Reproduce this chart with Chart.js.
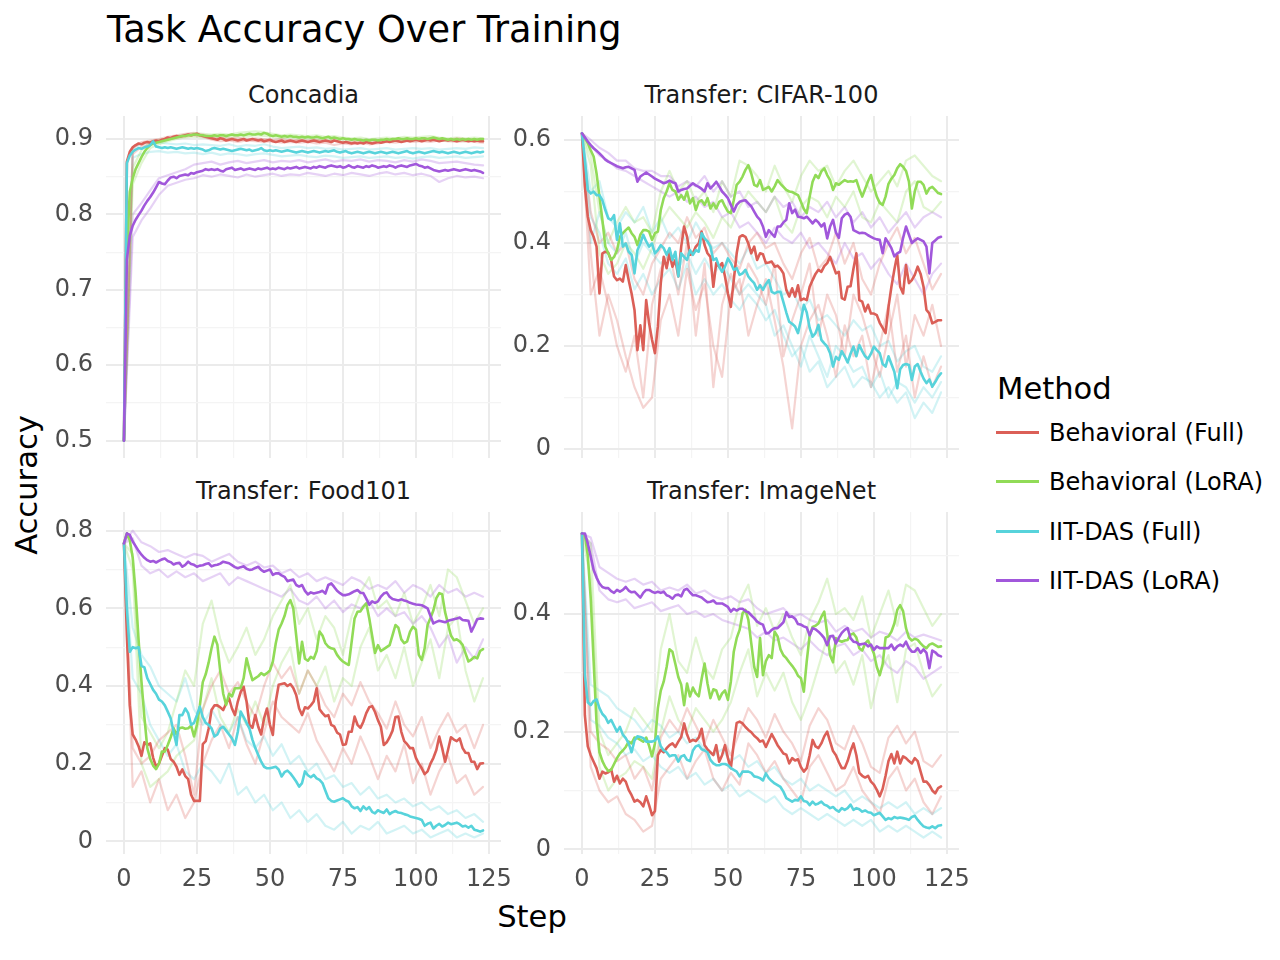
<!DOCTYPE html>
<html>
<head>
<meta charset="utf-8">
<title>Task Accuracy Over Training</title>
<script src="https://cdn.jsdelivr.net/npm/chart.js@4.4.1/dist/chart.umd.min.js"></script>
<style>
  body { margin: 0; background: #fff; font-family: 'DejaVu Sans', sans-serif; }
  #page { position: relative; width: 1280px; height: 960px; overflow: hidden; background: #fff; }
  .txt { position: absolute; white-space: nowrap; }
  canvas { position: absolute; }
  .strip { font-size: 24px; line-height: 24px; color: #1a1a1a; text-align: center; }
  .key { position: absolute; left: 996px; width: 43px; height: 3px; }
  .item { font-size: 24px; line-height: 24px; color: #000; left: 1049px; }
</style>
</head>
<body>
<div id="page">
  <div class="txt" style="left:107px;top:12px;font-size:36.7px;line-height:36.7px;color:#000;">Task Accuracy Over Training</div>
  <div class="txt strip" style="left:106px;top:83px;width:395px;">Concadia</div>
  <div class="txt strip" style="left:564px;top:83px;width:395px;">Transfer: CIFAR-100</div>
  <div class="txt strip" style="left:106px;top:479px;width:395px;">Transfer: Food101</div>
  <div class="txt strip" style="left:564px;top:479px;width:395px;">Transfer: ImageNet</div>
  <div class="txt" style="left:-73px;top:470px;width:200px;height:30px;text-align:center;font-size:30.6px;line-height:30px;transform:rotate(-90deg);color:#000;">Accuracy</div>
  <div class="txt" style="left:432px;top:902px;width:200px;text-align:center;font-size:30.6px;line-height:30.6px;color:#000;">Step</div>
  <div class="txt" style="left:997px;top:374px;font-size:30.6px;line-height:30.6px;color:#000;">Method</div>
  <div id="legend"></div>
  <canvas id="c0"></canvas>
  <canvas id="c1"></canvas>
  <canvas id="c2"></canvas>
  <canvas id="c3"></canvas>
</div>
<script>
const METHODS = ['Behavioral (Full)', 'Behavioral (LoRA)', 'IIT-DAS (Full)', 'IIT-DAS (LoRA)'];
const COLORS = ['#db5f57', '#91db57', '#57d3db', '#a157db'];

// training steps for the mean curves (every step) and for the single runs (every 3rd step)
const STEPS = Array.from({ length: 124 }, (_, i) => i);
const SEED_STEPS = Array.from({ length: 42 }, (_, i) => i * 3);

const X_MAJOR = [0, 25, 50, 75, 100, 125];
const X_MINOR = [12.5, 37.5, 62.5, 87.5, 112.5];

const CONCADIA_Y_MAJOR = [0.5, 0.6, 0.7, 0.8, 0.9];
const CONCADIA_Y_MINOR = [0.55, 0.65, 0.75, 0.85];
const CIFAR_Y_MAJOR = [0, 0.2, 0.4, 0.6];
const CIFAR_Y_MINOR = [0.1, 0.3, 0.5];
const FOOD_Y_MAJOR = [0, 0.2, 0.4, 0.6, 0.8];
const FOOD_Y_MINOR = [0.1, 0.3, 0.5, 0.7];
const IMAGENET_Y_MAJOR = [0, 0.2, 0.4];
const IMAGENET_Y_MINOR = [0.1, 0.3, 0.5];

// ---------- Concadia ----------
const CONCADIA_BEH_FULL = [
  0.500, 0.870, 0.883, 0.889, 0.892, 0.894, 0.893, 0.895, 0.896, 0.895,
  0.897, 0.898, 0.897, 0.899, 0.900, 0.902, 0.901, 0.903, 0.904, 0.903,
  0.904, 0.905, 0.906, 0.905, 0.906, 0.907, 0.905, 0.904, 0.903, 0.902,
  0.901, 0.900, 0.899, 0.901, 0.900, 0.898, 0.899, 0.900, 0.899, 0.898,
  0.899, 0.900, 0.898, 0.899, 0.900, 0.899, 0.898, 0.899, 0.897, 0.898,
  0.899, 0.897, 0.896, 0.897, 0.898, 0.896, 0.897, 0.898, 0.897, 0.896,
  0.897, 0.898, 0.897, 0.896, 0.897, 0.898, 0.897, 0.896, 0.897, 0.898,
  0.897, 0.896, 0.898, 0.897, 0.896, 0.895, 0.896, 0.895, 0.894, 0.895,
  0.894, 0.895, 0.894, 0.896, 0.895, 0.894, 0.895, 0.896, 0.895, 0.896,
  0.897, 0.896, 0.897, 0.898, 0.897, 0.896, 0.897, 0.898, 0.897, 0.898,
  0.899, 0.898, 0.897, 0.898, 0.899, 0.898, 0.899, 0.898, 0.897, 0.898,
  0.899, 0.898, 0.899, 0.898, 0.897, 0.898, 0.899, 0.898, 0.897, 0.898,
  0.897, 0.898, 0.897, 0.897
];
const CONCADIA_BEH_LORA = [
  0.500, 0.750, 0.830, 0.848, 0.860, 0.868, 0.876, 0.883, 0.888, 0.892,
  0.894, 0.895, 0.896, 0.897, 0.898, 0.899, 0.900, 0.901, 0.902, 0.903,
  0.904, 0.904, 0.905, 0.905, 0.906, 0.906, 0.905, 0.905, 0.904, 0.904,
  0.904, 0.905, 0.904, 0.905, 0.905, 0.904, 0.905, 0.906, 0.905, 0.905,
  0.906, 0.905, 0.906, 0.907, 0.906, 0.906, 0.907, 0.906, 0.908, 0.907,
  0.905, 0.904, 0.905, 0.904, 0.903, 0.904, 0.903, 0.904, 0.903, 0.903,
  0.902, 0.903, 0.902, 0.903, 0.902, 0.902, 0.903, 0.902, 0.901, 0.902,
  0.903, 0.901, 0.902, 0.901, 0.900, 0.901, 0.900, 0.900, 0.899, 0.900,
  0.899, 0.899, 0.898, 0.899, 0.898, 0.899, 0.899, 0.898, 0.899, 0.899,
  0.900, 0.899, 0.900, 0.900, 0.901, 0.900, 0.900, 0.901, 0.900, 0.900,
  0.901, 0.900, 0.901, 0.901, 0.900, 0.901, 0.902, 0.901, 0.900, 0.901,
  0.900, 0.899, 0.900, 0.899, 0.900, 0.899, 0.900, 0.899, 0.900, 0.899,
  0.900, 0.899, 0.900, 0.900
];
const CONCADIA_DAS_FULL = [
  0.500, 0.868, 0.878, 0.883, 0.886, 0.888, 0.887, 0.889, 0.890, 0.892,
  0.897, 0.890, 0.889, 0.888, 0.889, 0.888, 0.889, 0.888, 0.887, 0.888,
  0.889, 0.888, 0.887, 0.888, 0.887, 0.888, 0.887, 0.886, 0.884, 0.885,
  0.887, 0.888, 0.887, 0.886, 0.887, 0.886, 0.885, 0.884, 0.885, 0.886,
  0.887, 0.886, 0.885, 0.886, 0.884, 0.885, 0.886, 0.888, 0.885, 0.884,
  0.885, 0.884, 0.885, 0.884, 0.883, 0.884, 0.885, 0.884, 0.883, 0.882,
  0.883, 0.884, 0.883, 0.882, 0.883, 0.884, 0.883, 0.882, 0.883, 0.884,
  0.883, 0.884, 0.885, 0.883, 0.882, 0.883, 0.884, 0.882, 0.881, 0.882,
  0.883, 0.882, 0.881, 0.882, 0.883, 0.882, 0.881, 0.882, 0.883, 0.882,
  0.881, 0.882, 0.883, 0.882, 0.881, 0.882, 0.883, 0.884, 0.882, 0.881,
  0.882, 0.883, 0.882, 0.881, 0.882, 0.883, 0.884, 0.883, 0.882, 0.883,
  0.882, 0.881, 0.882, 0.883, 0.882, 0.881, 0.882, 0.883, 0.882, 0.881,
  0.882, 0.883, 0.882, 0.883
];
const CONCADIA_DAS_LORA = [
  0.500, 0.740, 0.772, 0.785, 0.793, 0.799, 0.805, 0.812, 0.818, 0.823,
  0.829, 0.836, 0.843, 0.841, 0.840, 0.845, 0.849, 0.850, 0.848, 0.851,
  0.852, 0.853, 0.852, 0.855, 0.854, 0.856, 0.857, 0.858, 0.860, 0.859,
  0.860, 0.859, 0.860, 0.858, 0.857, 0.860, 0.861, 0.862, 0.859, 0.860,
  0.861, 0.859, 0.860, 0.861, 0.860, 0.859, 0.861, 0.860, 0.861, 0.862,
  0.860, 0.861, 0.860, 0.862, 0.861, 0.860, 0.862, 0.861, 0.862, 0.863,
  0.861, 0.862, 0.863, 0.862, 0.861, 0.863, 0.862, 0.864, 0.863, 0.862,
  0.864, 0.865, 0.864, 0.863, 0.864, 0.862, 0.863, 0.865, 0.863, 0.862,
  0.864, 0.863, 0.862, 0.864, 0.863, 0.865, 0.864, 0.862, 0.863, 0.864,
  0.863, 0.865, 0.864, 0.862, 0.864, 0.865, 0.864, 0.863, 0.865, 0.866,
  0.867, 0.865, 0.864, 0.862, 0.863, 0.861, 0.859, 0.858, 0.857, 0.858,
  0.859, 0.858, 0.859, 0.860, 0.859, 0.858, 0.859, 0.860, 0.859, 0.858,
  0.859, 0.858, 0.857, 0.855
];
const CONCADIA_BEH_FULL_SEEDS = [
  [0.5, 0.887, 0.896, 0.898, 0.900, 0.903, 0.905, 0.907, 0.908, 0.906,
   0.903, 0.902, 0.901, 0.902, 0.900, 0.901, 0.900, 0.899, 0.900, 0.898,
   0.899, 0.898, 0.899, 0.897, 0.898, 0.896, 0.897, 0.896, 0.898, 0.897,
   0.899, 0.898, 0.900, 0.899, 0.900, 0.901, 0.900, 0.899, 0.901, 0.900,
   0.899, 0.900],
  [0.5, 0.880, 0.890, 0.893, 0.896, 0.899, 0.902, 0.903, 0.905, 0.903,
   0.899, 0.897, 0.898, 0.896, 0.898, 0.897, 0.896, 0.897, 0.895, 0.896,
   0.895, 0.896, 0.894, 0.895, 0.892, 0.894, 0.893, 0.895, 0.893, 0.894,
   0.896, 0.895, 0.897, 0.896, 0.897, 0.896, 0.898, 0.897, 0.896, 0.897,
   0.896, 0.895]
];
const CONCADIA_BEH_LORA_SEEDS = [
  [0.5, 0.862, 0.885, 0.896, 0.899, 0.901, 0.904, 0.906, 0.908, 0.907,
   0.906, 0.907, 0.906, 0.908, 0.909, 0.910, 0.909, 0.907, 0.905, 0.906,
   0.905, 0.904, 0.905, 0.903, 0.904, 0.902, 0.901, 0.902, 0.900, 0.901,
   0.902, 0.901, 0.903, 0.902, 0.903, 0.904, 0.902, 0.901, 0.902, 0.901,
   0.902, 0.901],
  [0.5, 0.840, 0.868, 0.888, 0.893, 0.897, 0.900, 0.902, 0.903, 0.902,
   0.902, 0.903, 0.902, 0.904, 0.903, 0.905, 0.904, 0.903, 0.901, 0.902,
   0.900, 0.901, 0.899, 0.900, 0.898, 0.897, 0.898, 0.896, 0.897, 0.898,
   0.897, 0.898, 0.899, 0.898, 0.899, 0.900, 0.898, 0.897, 0.898, 0.897,
   0.898, 0.898]
];
const CONCADIA_DAS_FULL_SEEDS = [
  [0.5, 0.889, 0.893, 0.896, 0.895, 0.894, 0.893, 0.894, 0.892, 0.893,
   0.892, 0.891, 0.893, 0.890, 0.892, 0.891, 0.893, 0.890, 0.888, 0.889,
   0.890, 0.888, 0.889, 0.887, 0.888, 0.886, 0.887, 0.888, 0.886, 0.887,
   0.888, 0.886, 0.887, 0.888, 0.887, 0.888, 0.886, 0.887, 0.888, 0.887,
   0.889, 0.888],
  [0.5, 0.875, 0.880, 0.883, 0.884, 0.882, 0.883, 0.881, 0.882, 0.880,
   0.882, 0.879, 0.881, 0.880, 0.878, 0.880, 0.881, 0.879, 0.877, 0.878,
   0.879, 0.877, 0.876, 0.878, 0.877, 0.875, 0.876, 0.877, 0.875, 0.876,
   0.877, 0.875, 0.876, 0.874, 0.876, 0.877, 0.875, 0.876, 0.877, 0.875,
   0.876, 0.877]
];
const CONCADIA_DAS_LORA_SEEDS = [
  [0.5, 0.800, 0.815, 0.832, 0.848, 0.852, 0.856, 0.860, 0.866, 0.868,
   0.870, 0.866, 0.869, 0.871, 0.868, 0.870, 0.872, 0.869, 0.871, 0.870,
   0.872, 0.869, 0.871, 0.873, 0.870, 0.872, 0.871, 0.873, 0.870, 0.872,
   0.871, 0.869, 0.872, 0.870, 0.873, 0.871, 0.868, 0.869, 0.870, 0.868,
   0.866, 0.865],
  [0.5, 0.770, 0.792, 0.808, 0.826, 0.838, 0.842, 0.846, 0.848, 0.852,
   0.850, 0.853, 0.851, 0.849, 0.853, 0.850, 0.852, 0.854, 0.851, 0.853,
   0.852, 0.855, 0.853, 0.851, 0.854, 0.852, 0.855, 0.853, 0.851, 0.854,
   0.856, 0.853, 0.855, 0.852, 0.854, 0.851, 0.843, 0.848, 0.851, 0.849,
   0.850, 0.848]
];

// ---------- Transfer: CIFAR-100 ----------
const CIFAR_BEH_FULL = [
  0.613, 0.510, 0.451, 0.425, 0.412, 0.393, 0.302, 0.380, 0.383, 0.381,
  0.367, 0.335, 0.328, 0.331, 0.325, 0.357, 0.328, 0.302, 0.270, 0.192,
  0.240, 0.192, 0.289, 0.244, 0.212, 0.186, 0.238, 0.322, 0.373, 0.351,
  0.380, 0.354, 0.367, 0.335, 0.393, 0.432, 0.412, 0.377, 0.380, 0.393,
  0.399, 0.422, 0.396, 0.380, 0.373, 0.315, 0.361, 0.354, 0.361, 0.335,
  0.302, 0.276, 0.328, 0.380, 0.412, 0.415, 0.412, 0.399, 0.380, 0.393,
  0.367, 0.380, 0.378, 0.361, 0.362, 0.364, 0.354, 0.356, 0.350, 0.341,
  0.309, 0.296, 0.312, 0.296, 0.318, 0.289, 0.292, 0.289, 0.315, 0.328,
  0.340, 0.348, 0.344, 0.355, 0.361, 0.373, 0.357, 0.341, 0.344, 0.293,
  0.290, 0.315, 0.316, 0.350, 0.380, 0.289, 0.286, 0.267, 0.280, 0.263,
  0.263, 0.260, 0.245, 0.235, 0.225, 0.276, 0.315, 0.348, 0.377, 0.315,
  0.302, 0.357, 0.322, 0.328, 0.338, 0.354, 0.340, 0.315, 0.270, 0.263,
  0.244, 0.247, 0.250, 0.250
];
const CIFAR_BEH_LORA = [
  0.613, 0.604, 0.594, 0.580, 0.568, 0.535, 0.490, 0.445, 0.393, 0.380,
  0.367, 0.373, 0.386, 0.412, 0.419, 0.425, 0.430, 0.419, 0.412, 0.396,
  0.416, 0.425, 0.425, 0.422, 0.406, 0.419, 0.422, 0.464, 0.487, 0.500,
  0.516, 0.503, 0.500, 0.484, 0.493, 0.484, 0.500, 0.477, 0.487, 0.464,
  0.480, 0.483, 0.474, 0.487, 0.467, 0.477, 0.467, 0.480, 0.483, 0.471,
  0.461, 0.458, 0.483, 0.513, 0.519, 0.529, 0.542, 0.551, 0.535, 0.513,
  0.510, 0.522, 0.503, 0.506, 0.509, 0.500, 0.510, 0.522, 0.515, 0.509,
  0.503, 0.500, 0.499, 0.496, 0.493, 0.480, 0.466, 0.458, 0.490, 0.519,
  0.532, 0.526, 0.539, 0.545, 0.532, 0.522, 0.503, 0.516, 0.513, 0.518,
  0.522, 0.519, 0.520, 0.519, 0.522, 0.505, 0.490, 0.505, 0.520, 0.532,
  0.509, 0.490, 0.478, 0.474, 0.490, 0.515, 0.525, 0.532, 0.545, 0.553,
  0.548, 0.540, 0.519, 0.467, 0.500, 0.519, 0.519, 0.513, 0.496, 0.506,
  0.509, 0.503, 0.497, 0.495
];
const CIFAR_DAS_FULL = [
  0.613, 0.561, 0.503, 0.496, 0.500, 0.493, 0.493, 0.483, 0.464, 0.448,
  0.445, 0.454, 0.406, 0.438, 0.393, 0.399, 0.383, 0.377, 0.341, 0.386,
  0.399, 0.416, 0.403, 0.393, 0.399, 0.380, 0.386, 0.396, 0.390, 0.377,
  0.390, 0.367, 0.383, 0.335, 0.380, 0.373, 0.367, 0.386, 0.377, 0.386,
  0.383, 0.419, 0.409, 0.403, 0.393, 0.367, 0.370, 0.354, 0.344, 0.354,
  0.370, 0.361, 0.348, 0.351, 0.338, 0.341, 0.348, 0.335, 0.328, 0.322,
  0.309, 0.318, 0.309, 0.320, 0.328, 0.305, 0.302, 0.305, 0.305, 0.285,
  0.265, 0.247, 0.243, 0.238, 0.225, 0.250, 0.280, 0.265, 0.235, 0.218,
  0.225, 0.241, 0.212, 0.205, 0.199, 0.186, 0.160, 0.179, 0.173, 0.190,
  0.180, 0.168, 0.185, 0.199, 0.180, 0.202, 0.190, 0.180, 0.175, 0.185,
  0.199, 0.192, 0.186, 0.165, 0.160, 0.180, 0.165, 0.150, 0.118, 0.155,
  0.163, 0.165, 0.163, 0.134, 0.160, 0.165, 0.150, 0.137, 0.128, 0.135,
  0.121, 0.130, 0.140, 0.147
];
const CIFAR_DAS_LORA = [
  0.613, 0.605, 0.597, 0.590, 0.584, 0.579, 0.574, 0.568, 0.562, 0.558,
  0.555, 0.552, 0.549, 0.547, 0.545, 0.547, 0.548, 0.545, 0.542, 0.519,
  0.529, 0.533, 0.537, 0.533, 0.529, 0.525, 0.522, 0.519, 0.516, 0.518,
  0.521, 0.518, 0.516, 0.500, 0.503, 0.505, 0.506, 0.511, 0.516, 0.512,
  0.509, 0.505, 0.500, 0.516, 0.506, 0.512, 0.519, 0.510, 0.500, 0.494,
  0.487, 0.474, 0.461, 0.474, 0.480, 0.482, 0.483, 0.477, 0.471, 0.461,
  0.451, 0.445, 0.432, 0.412, 0.425, 0.418, 0.412, 0.432, 0.432, 0.440,
  0.445, 0.477, 0.458, 0.465, 0.451, 0.450, 0.448, 0.451, 0.445, 0.438,
  0.445, 0.440, 0.432, 0.438, 0.409, 0.432, 0.445, 0.420, 0.410, 0.448,
  0.455, 0.458, 0.451, 0.425, 0.422, 0.419, 0.420, 0.419, 0.415, 0.412,
  0.409, 0.407, 0.406, 0.380, 0.409, 0.400, 0.390, 0.374, 0.380, 0.383,
  0.410, 0.432, 0.416, 0.400, 0.405, 0.409, 0.406, 0.403, 0.393, 0.341,
  0.400, 0.405, 0.410, 0.412
];
const CIFAR_BEH_FULL_SEEDS = [
  [0.613, 0.46, 0.40, 0.42, 0.38, 0.40, 0.33, 0.30, 0.36, 0.39,
   0.42, 0.40, 0.45, 0.41, 0.43, 0.38, 0.40, 0.37, 0.35, 0.40,
   0.42, 0.39, 0.40, 0.36, 0.33, 0.38, 0.41, 0.35, 0.37, 0.42,
   0.36, 0.40, 0.33, 0.30, 0.36, 0.40, 0.43, 0.38, 0.41, 0.36,
   0.31, 0.34],
  [0.613, 0.38, 0.22, 0.30, 0.25, 0.18, 0.12, 0.08, 0.10, 0.25,
   0.30, 0.22, 0.35, 0.27, 0.32, 0.20, 0.14, 0.30, 0.33, 0.22,
   0.28, 0.33, 0.25, 0.16, 0.04, 0.20, 0.25, 0.28, 0.22, 0.14,
   0.24, 0.18, 0.22, 0.12, 0.20, 0.28, 0.15, 0.22, 0.10, 0.18,
   0.12, 0.16],
  [0.613, 0.30, 0.35, 0.28, 0.20, 0.15, 0.22, 0.10, 0.28, 0.35,
   0.38, 0.30, 0.40, 0.22, 0.36, 0.12, 0.28, 0.34, 0.30, 0.36,
   0.33, 0.28, 0.36, 0.18, 0.25, 0.30, 0.36, 0.22, 0.30, 0.26,
   0.18, 0.30, 0.26, 0.20, 0.14, 0.22, 0.30, 0.16, 0.26, 0.22,
   0.28, 0.20]
];
const CIFAR_BEH_LORA_SEEDS = [
  [0.613, 0.57, 0.46, 0.40, 0.44, 0.47, 0.44, 0.45, 0.42, 0.50,
   0.54, 0.50, 0.52, 0.48, 0.50, 0.46, 0.52, 0.49, 0.56, 0.55,
   0.53, 0.50, 0.55, 0.51, 0.48, 0.53, 0.56, 0.54, 0.55, 0.51,
   0.54, 0.56, 0.53, 0.50, 0.52, 0.54, 0.51, 0.56, 0.57, 0.55,
   0.53, 0.52],
  [0.613, 0.55, 0.38, 0.34, 0.36, 0.40, 0.38, 0.35, 0.39, 0.44,
   0.47, 0.45, 0.43, 0.46, 0.44, 0.41, 0.45, 0.43, 0.47, 0.50,
   0.48, 0.46, 0.49, 0.44, 0.42, 0.47, 0.49, 0.48, 0.45, 0.49,
   0.47, 0.50, 0.45, 0.44, 0.48, 0.46, 0.44, 0.50, 0.52, 0.47,
   0.46, 0.48]
];
const CIFAR_DAS_FULL_SEEDS = [
  [0.613, 0.50, 0.52, 0.45, 0.43, 0.46, 0.44, 0.47, 0.42, 0.45,
   0.41, 0.43, 0.40, 0.44, 0.41, 0.39, 0.40, 0.38, 0.36, 0.39,
   0.35, 0.36, 0.33, 0.30, 0.31, 0.27, 0.29, 0.25, 0.26, 0.24,
   0.22, 0.25, 0.23, 0.24, 0.20, 0.21, 0.17, 0.19, 0.20, 0.16,
   0.15, 0.18],
  [0.613, 0.45, 0.42, 0.36, 0.34, 0.37, 0.31, 0.34, 0.30, 0.33,
   0.35, 0.31, 0.36, 0.30, 0.33, 0.30, 0.32, 0.29, 0.27, 0.30,
   0.28, 0.25, 0.27, 0.22, 0.18, 0.20, 0.15, 0.17, 0.12, 0.14,
   0.16, 0.12, 0.14, 0.13, 0.10, 0.12, 0.09, 0.11, 0.06, 0.09,
   0.07, 0.11],
  [0.613, 0.40, 0.46, 0.40, 0.38, 0.42, 0.36, 0.40, 0.38, 0.36,
   0.38, 0.35, 0.38, 0.34, 0.37, 0.34, 0.36, 0.33, 0.30, 0.32,
   0.30, 0.28, 0.22, 0.24, 0.20, 0.16, 0.22, 0.18, 0.14, 0.20,
   0.18, 0.15, 0.16, 0.12, 0.15, 0.10, 0.13, 0.12, 0.09, 0.12,
   0.10, 0.13]
];
const CIFAR_DAS_LORA_SEEDS = [
  [0.613, 0.60, 0.585, 0.575, 0.56, 0.56, 0.545, 0.54, 0.54, 0.53,
   0.53, 0.51, 0.52, 0.51, 0.53, 0.50, 0.52, 0.49, 0.50, 0.47,
   0.48, 0.46, 0.49, 0.47, 0.48, 0.45, 0.47, 0.46, 0.48, 0.45,
   0.47, 0.44, 0.46, 0.43, 0.45, 0.42, 0.44, 0.46, 0.43, 0.45,
   0.46, 0.45],
  [0.613, 0.59, 0.57, 0.56, 0.545, 0.54, 0.53, 0.52, 0.51, 0.50,
   0.49, 0.50, 0.48, 0.49, 0.47, 0.48, 0.45, 0.46, 0.43, 0.44,
   0.42, 0.40, 0.43, 0.41, 0.40, 0.42, 0.39, 0.40, 0.38, 0.36,
   0.40, 0.37, 0.38, 0.35, 0.37, 0.34, 0.32, 0.36, 0.33, 0.30,
   0.34, 0.36]
];

// ---------- Transfer: Food101 ----------
const FOOD_BEH_FULL = [
  0.767, 0.530, 0.350, 0.275, 0.262, 0.245, 0.220, 0.255, 0.248, 0.252,
  0.215, 0.192, 0.200, 0.220, 0.240, 0.236, 0.212, 0.205, 0.192, 0.171,
  0.185, 0.168, 0.160, 0.120, 0.104, 0.104, 0.104, 0.250, 0.258, 0.290,
  0.338, 0.350, 0.350, 0.345, 0.338, 0.355, 0.368, 0.342, 0.325, 0.360,
  0.385, 0.398, 0.360, 0.300, 0.292, 0.325, 0.295, 0.275, 0.317, 0.342,
  0.300, 0.274, 0.360, 0.403, 0.405, 0.407, 0.400, 0.405, 0.395, 0.377,
  0.342, 0.325, 0.345, 0.342, 0.350, 0.360, 0.394, 0.340, 0.330, 0.322,
  0.325, 0.300, 0.296, 0.280, 0.275, 0.248, 0.250, 0.282, 0.282, 0.321,
  0.300, 0.292, 0.308, 0.330, 0.345, 0.348, 0.333, 0.312, 0.295, 0.248,
  0.255, 0.268, 0.285, 0.320, 0.321, 0.282, 0.258, 0.250, 0.240, 0.240,
  0.215, 0.200, 0.188, 0.173, 0.180, 0.200, 0.215, 0.235, 0.270, 0.240,
  0.205, 0.235, 0.268, 0.262, 0.258, 0.265, 0.240, 0.228, 0.227, 0.205,
  0.205, 0.186, 0.200, 0.201
];
const FOOD_BEH_LORA = [
  0.767, 0.793, 0.775, 0.730, 0.640, 0.520, 0.411, 0.320, 0.240, 0.212,
  0.195, 0.186, 0.200, 0.231, 0.231, 0.248, 0.268, 0.291, 0.275, 0.291,
  0.293, 0.290, 0.291, 0.298, 0.270, 0.300, 0.350, 0.410, 0.430, 0.460,
  0.497, 0.527, 0.506, 0.437, 0.380, 0.351, 0.380, 0.373, 0.394, 0.394,
  0.395, 0.420, 0.471, 0.441, 0.415, 0.420, 0.425, 0.433, 0.428, 0.433,
  0.440, 0.463, 0.510, 0.545, 0.561, 0.580, 0.608, 0.621, 0.600, 0.530,
  0.458, 0.514, 0.470, 0.465, 0.475, 0.470, 0.490, 0.540, 0.530, 0.510,
  0.501, 0.497, 0.495, 0.480, 0.470, 0.463, 0.458, 0.454, 0.514, 0.574,
  0.591, 0.592, 0.604, 0.613, 0.575, 0.530, 0.485, 0.505, 0.490, 0.495,
  0.500, 0.505, 0.531, 0.557, 0.550, 0.520, 0.510, 0.515, 0.540, 0.553,
  0.545, 0.480, 0.467, 0.497, 0.557, 0.575, 0.595, 0.626, 0.639, 0.636,
  0.590, 0.560, 0.530, 0.518, 0.520, 0.515, 0.506, 0.484, 0.463, 0.468,
  0.475, 0.471, 0.490, 0.495
];
const FOOD_DAS_FULL = [
  0.767, 0.600, 0.488, 0.500, 0.497, 0.500, 0.452, 0.448, 0.420, 0.405,
  0.390, 0.380, 0.365, 0.360, 0.350, 0.334, 0.317, 0.282, 0.248, 0.325,
  0.325, 0.342, 0.330, 0.300, 0.305, 0.325, 0.347, 0.320, 0.305, 0.300,
  0.291, 0.270, 0.275, 0.291, 0.295, 0.285, 0.275, 0.265, 0.248, 0.282,
  0.334, 0.320, 0.305, 0.290, 0.262, 0.240, 0.222, 0.205, 0.192, 0.188,
  0.188, 0.190, 0.192, 0.185, 0.167, 0.178, 0.182, 0.175, 0.165, 0.154,
  0.141, 0.150, 0.180, 0.170, 0.165, 0.171, 0.162, 0.158, 0.150, 0.130,
  0.111, 0.104, 0.102, 0.105, 0.108, 0.111, 0.105, 0.102, 0.090, 0.085,
  0.088, 0.078, 0.090, 0.082, 0.088, 0.076, 0.072, 0.080, 0.076, 0.073,
  0.082, 0.070, 0.075, 0.078, 0.074, 0.073, 0.070, 0.068, 0.064, 0.062,
  0.060, 0.058, 0.055, 0.040, 0.045, 0.048, 0.033, 0.040, 0.045, 0.038,
  0.042, 0.048, 0.044, 0.046, 0.048, 0.044, 0.038, 0.040, 0.035, 0.040,
  0.030, 0.028, 0.025, 0.028
];
const FOOD_DAS_LORA = [
  0.767, 0.793, 0.789, 0.772, 0.760, 0.748, 0.738, 0.730, 0.724, 0.720,
  0.722, 0.718, 0.722, 0.726, 0.728, 0.722, 0.719, 0.713, 0.716, 0.717,
  0.707, 0.712, 0.720, 0.714, 0.712, 0.707, 0.710, 0.711, 0.714, 0.716,
  0.708, 0.711, 0.712, 0.715, 0.720, 0.718, 0.716, 0.711, 0.706, 0.703,
  0.706, 0.708, 0.702, 0.699, 0.700, 0.704, 0.707, 0.699, 0.694, 0.697,
  0.700, 0.686, 0.690, 0.690, 0.685, 0.681, 0.670, 0.672, 0.674, 0.660,
  0.656, 0.660, 0.645, 0.636, 0.641, 0.638, 0.640, 0.642, 0.645, 0.638,
  0.660, 0.664, 0.655, 0.645, 0.639, 0.634, 0.634, 0.636, 0.640, 0.644,
  0.647, 0.640, 0.639, 0.625, 0.609, 0.618, 0.614, 0.618, 0.630, 0.638,
  0.641, 0.630, 0.624, 0.622, 0.620, 0.623, 0.620, 0.618, 0.614, 0.612,
  0.610, 0.609, 0.608, 0.604, 0.600, 0.580, 0.561, 0.565, 0.568, 0.566,
  0.564, 0.568, 0.570, 0.572, 0.574, 0.576, 0.570, 0.569, 0.568, 0.540,
  0.555, 0.572, 0.574, 0.573
];
const FOOD_BEH_FULL_SEEDS = [
  [0.767, 0.24, 0.20, 0.22, 0.26, 0.28, 0.30, 0.22, 0.12, 0.34,
   0.40, 0.44, 0.38, 0.41, 0.36, 0.32, 0.40, 0.46, 0.42, 0.45,
   0.38, 0.44, 0.40, 0.35, 0.32, 0.38, 0.35, 0.41, 0.36, 0.33,
   0.29, 0.36, 0.30, 0.27, 0.32, 0.24, 0.29, 0.33, 0.28, 0.30,
   0.24, 0.30],
  [0.767, 0.14, 0.18, 0.10, 0.16, 0.08, 0.12, 0.06, 0.10, 0.20,
   0.26, 0.30, 0.24, 0.32, 0.25, 0.20, 0.28, 0.36, 0.32, 0.30,
   0.28, 0.33, 0.26, 0.22, 0.18, 0.24, 0.20, 0.27, 0.22, 0.16,
   0.22, 0.18, 0.25, 0.15, 0.20, 0.12, 0.18, 0.22, 0.15, 0.17,
   0.12, 0.14]
];
const FOOD_BEH_LORA_SEEDS = [
  [0.767, 0.74, 0.32, 0.28, 0.24, 0.28, 0.36, 0.44, 0.40, 0.56,
   0.62, 0.52, 0.46, 0.50, 0.55, 0.48, 0.52, 0.58, 0.62, 0.66,
   0.56, 0.60, 0.52, 0.58, 0.55, 0.48, 0.58, 0.64, 0.68, 0.60,
   0.62, 0.58, 0.64, 0.56, 0.60, 0.66, 0.58, 0.70, 0.68, 0.62,
   0.56, 0.60],
  [0.767, 0.70, 0.20, 0.14, 0.16, 0.18, 0.22, 0.24, 0.26, 0.34,
   0.42, 0.32, 0.28, 0.34, 0.30, 0.36, 0.30, 0.40, 0.46, 0.50,
   0.38, 0.44, 0.40, 0.45, 0.36, 0.42, 0.40, 0.50, 0.55, 0.44,
   0.48, 0.42, 0.50, 0.40, 0.46, 0.52, 0.42, 0.55, 0.58, 0.44,
   0.36, 0.42]
];
const FOOD_DAS_FULL_SEEDS = [
  [0.767, 0.55, 0.48, 0.45, 0.40, 0.38, 0.36, 0.42, 0.34, 0.30,
   0.34, 0.30, 0.28, 0.32, 0.26, 0.24, 0.27, 0.22, 0.25, 0.20,
   0.22, 0.18, 0.20, 0.16, 0.17, 0.14, 0.15, 0.12, 0.14, 0.11,
   0.12, 0.10, 0.11, 0.09, 0.10, 0.08, 0.09, 0.07, 0.08, 0.06,
   0.07, 0.05],
  [0.767, 0.42, 0.38, 0.30, 0.26, 0.22, 0.25, 0.18, 0.16, 0.20,
   0.18, 0.15, 0.20, 0.12, 0.14, 0.10, 0.12, 0.08, 0.10, 0.06,
   0.08, 0.05, 0.07, 0.04, 0.03, 0.05, 0.02, 0.04, 0.03, 0.05,
   0.02, 0.03, 0.04, 0.02, 0.03, 0.01, 0.02, 0.03, 0.01, 0.02,
   0.01, 0.02]
];
const FOOD_DAS_LORA_SEEDS = [
  [0.767, 0.80, 0.77, 0.76, 0.745, 0.75, 0.74, 0.73, 0.74, 0.735,
   0.72, 0.73, 0.74, 0.72, 0.71, 0.72, 0.705, 0.71, 0.69, 0.70,
   0.68, 0.69, 0.67, 0.68, 0.67, 0.66, 0.68, 0.67, 0.65, 0.66,
   0.65, 0.67, 0.64, 0.66, 0.65, 0.63, 0.66, 0.64, 0.65, 0.63,
   0.64, 0.63],
  [0.767, 0.78, 0.71, 0.69, 0.70, 0.68, 0.695, 0.68, 0.69, 0.67,
   0.68, 0.69, 0.66, 0.68, 0.67, 0.66, 0.65, 0.64, 0.63, 0.65,
   0.62, 0.61, 0.63, 0.60, 0.62, 0.59, 0.61, 0.60, 0.62, 0.58,
   0.60, 0.58, 0.59, 0.56, 0.58, 0.55, 0.50, 0.53, 0.46, 0.50,
   0.47, 0.52]
];

// ---------- Transfer: ImageNet ----------
const IMAGENET_BEH_FULL = [
  0.537, 0.228, 0.175, 0.160, 0.149, 0.138, 0.120, 0.132, 0.129, 0.131,
  0.136, 0.115, 0.125, 0.112, 0.120, 0.115, 0.101, 0.092, 0.081, 0.084,
  0.080, 0.073, 0.090, 0.075, 0.058, 0.065, 0.160, 0.169, 0.165, 0.172,
  0.177, 0.180, 0.174, 0.183, 0.191, 0.214, 0.195, 0.183, 0.186, 0.184,
  0.190, 0.205, 0.177, 0.170, 0.165, 0.160, 0.177, 0.149, 0.160, 0.177,
  0.155, 0.138, 0.180, 0.215, 0.217, 0.214, 0.208, 0.203, 0.199, 0.193,
  0.189, 0.183, 0.185, 0.174, 0.185, 0.196, 0.187, 0.177, 0.170, 0.163,
  0.161, 0.146, 0.155, 0.151, 0.153, 0.140, 0.132, 0.138, 0.160, 0.186,
  0.175, 0.172, 0.180, 0.192, 0.200, 0.183, 0.167, 0.160, 0.148, 0.138,
  0.138, 0.150, 0.167, 0.180, 0.160, 0.130, 0.125, 0.122, 0.125, 0.115,
  0.110, 0.101, 0.090, 0.103, 0.125, 0.150, 0.162, 0.146, 0.166, 0.146,
  0.158, 0.155, 0.150, 0.146, 0.155, 0.150, 0.132, 0.115, 0.115, 0.109,
  0.100, 0.095, 0.104, 0.107
];
const IMAGENET_BEH_LORA = [
  0.537, 0.534, 0.500, 0.427, 0.320, 0.215, 0.165, 0.150, 0.140, 0.133,
  0.135, 0.145, 0.155, 0.163, 0.168, 0.174, 0.183, 0.180, 0.190, 0.189,
  0.186, 0.183, 0.190, 0.176, 0.158, 0.180, 0.240, 0.270, 0.285, 0.310,
  0.340, 0.336, 0.315, 0.293, 0.280, 0.245, 0.282, 0.260, 0.275, 0.265,
  0.260, 0.290, 0.316, 0.282, 0.257, 0.272, 0.270, 0.255, 0.265, 0.270,
  0.254, 0.285, 0.336, 0.359, 0.373, 0.401, 0.407, 0.390, 0.350, 0.310,
  0.293, 0.359, 0.296, 0.320, 0.330, 0.325, 0.370, 0.362, 0.340, 0.330,
  0.325, 0.318, 0.312, 0.305, 0.295, 0.291, 0.268, 0.320, 0.364, 0.378,
  0.380, 0.384, 0.395, 0.404, 0.367, 0.330, 0.318, 0.359, 0.355, 0.353,
  0.355, 0.356, 0.365, 0.367, 0.360, 0.342, 0.338, 0.350, 0.355, 0.345,
  0.333, 0.310, 0.296, 0.315, 0.360, 0.362, 0.370, 0.384, 0.407, 0.415,
  0.405, 0.376, 0.360, 0.355, 0.358, 0.356, 0.350, 0.345, 0.342, 0.348,
  0.350, 0.347, 0.344, 0.345
];
const IMAGENET_DAS_FULL = [
  0.537, 0.296, 0.250, 0.245, 0.252, 0.255, 0.240, 0.230, 0.225, 0.215,
  0.220, 0.210, 0.200, 0.208, 0.195, 0.189, 0.180, 0.165, 0.185, 0.192,
  0.191, 0.189, 0.183, 0.183, 0.183, 0.185, 0.192, 0.175, 0.168, 0.165,
  0.158, 0.160, 0.160, 0.149, 0.158, 0.160, 0.152, 0.150, 0.168, 0.175,
  0.177, 0.170, 0.168, 0.165, 0.152, 0.146, 0.143, 0.143, 0.145, 0.145,
  0.143, 0.138, 0.135, 0.132, 0.124, 0.132, 0.132, 0.132, 0.130, 0.124,
  0.123, 0.121, 0.117, 0.129, 0.121, 0.116, 0.112, 0.109, 0.106, 0.098,
  0.087, 0.084, 0.081, 0.084, 0.083, 0.090, 0.082, 0.081, 0.075, 0.081,
  0.076, 0.078, 0.081, 0.076, 0.074, 0.070, 0.072, 0.067, 0.064, 0.070,
  0.067, 0.070, 0.076, 0.067, 0.070, 0.068, 0.064, 0.066, 0.063, 0.062,
  0.058, 0.060, 0.062, 0.056, 0.050, 0.053, 0.051, 0.055, 0.053, 0.054,
  0.053, 0.052, 0.050, 0.055, 0.057, 0.050, 0.044, 0.039, 0.037, 0.036,
  0.039, 0.036, 0.040, 0.041
];
const IMAGENET_DAS_LORA = [
  0.537, 0.537, 0.520, 0.498, 0.475, 0.462, 0.452, 0.446, 0.444, 0.444,
  0.439, 0.436, 0.441, 0.438, 0.441, 0.446, 0.440, 0.437, 0.438, 0.433,
  0.428, 0.436, 0.441, 0.441, 0.438, 0.436, 0.438, 0.436, 0.438, 0.432,
  0.430, 0.426, 0.432, 0.433, 0.430, 0.441, 0.443, 0.437, 0.432, 0.432,
  0.430, 0.428, 0.424, 0.420, 0.421, 0.423, 0.418, 0.418, 0.418, 0.415,
  0.412, 0.404, 0.409, 0.406, 0.409, 0.409, 0.405, 0.403, 0.398, 0.393,
  0.387, 0.384, 0.382, 0.367, 0.368, 0.373, 0.376, 0.376, 0.381, 0.386,
  0.403, 0.395, 0.396, 0.392, 0.383, 0.382, 0.379, 0.377, 0.364, 0.376,
  0.374, 0.370, 0.365, 0.359, 0.347, 0.362, 0.363, 0.350, 0.360, 0.368,
  0.373, 0.376, 0.359, 0.353, 0.352, 0.348, 0.349, 0.350, 0.345, 0.348,
  0.339, 0.345, 0.342, 0.342, 0.342, 0.342, 0.348, 0.339, 0.345, 0.348,
  0.345, 0.353, 0.342, 0.336, 0.336, 0.342, 0.334, 0.340, 0.334, 0.308,
  0.338, 0.335, 0.330, 0.328
];
const IMAGENET_BEH_FULL_SEEDS = [
  [0.537, 0.20, 0.18, 0.17, 0.15, 0.16, 0.12, 0.14, 0.10, 0.19,
   0.22, 0.20, 0.24, 0.21, 0.18, 0.22, 0.19, 0.16, 0.20, 0.24,
   0.22, 0.19, 0.23, 0.20, 0.18, 0.15, 0.21, 0.24, 0.22, 0.18,
   0.17, 0.21, 0.18, 0.14, 0.13, 0.19, 0.21, 0.18, 0.20, 0.15,
   0.14, 0.16],
  [0.537, 0.14, 0.10, 0.08, 0.09, 0.06, 0.05, 0.03, 0.04, 0.12,
   0.14, 0.16, 0.12, 0.15, 0.17, 0.12, 0.10, 0.13, 0.11, 0.18,
   0.16, 0.13, 0.15, 0.12, 0.10, 0.08, 0.14, 0.16, 0.13, 0.10,
   0.11, 0.14, 0.10, 0.08, 0.06, 0.12, 0.14, 0.10, 0.12, 0.08,
   0.06, 0.09]
];
const IMAGENET_BEH_LORA_SEEDS = [
  [0.537, 0.52, 0.20, 0.16, 0.18, 0.20, 0.24, 0.22, 0.20, 0.34,
   0.40, 0.32, 0.30, 0.36, 0.31, 0.29, 0.34, 0.36, 0.42, 0.45,
   0.38, 0.41, 0.37, 0.40, 0.36, 0.33, 0.39, 0.42, 0.46, 0.40,
   0.41, 0.39, 0.43, 0.36, 0.40, 0.44, 0.38, 0.45, 0.44, 0.41,
   0.38, 0.40],
  [0.537, 0.46, 0.14, 0.10, 0.12, 0.13, 0.15, 0.14, 0.12, 0.20,
   0.26, 0.22, 0.20, 0.24, 0.22, 0.20, 0.22, 0.25, 0.30, 0.34,
   0.26, 0.30, 0.27, 0.30, 0.25, 0.22, 0.26, 0.31, 0.36, 0.30,
   0.32, 0.28, 0.33, 0.24, 0.30, 0.33, 0.25, 0.34, 0.35, 0.30,
   0.26, 0.28]
];
const IMAGENET_DAS_FULL_SEEDS = [
  [0.537, 0.28, 0.27, 0.26, 0.24, 0.23, 0.22, 0.20, 0.22, 0.21,
   0.19, 0.20, 0.18, 0.19, 0.17, 0.16, 0.17, 0.15, 0.16, 0.14,
   0.15, 0.13, 0.14, 0.12, 0.11, 0.12, 0.10, 0.11, 0.10, 0.09,
   0.10, 0.08, 0.09, 0.08, 0.07, 0.08, 0.07, 0.08, 0.06, 0.07,
   0.06, 0.07],
  [0.537, 0.22, 0.21, 0.19, 0.18, 0.16, 0.17, 0.15, 0.16, 0.14,
   0.13, 0.14, 0.12, 0.13, 0.11, 0.12, 0.10, 0.11, 0.09, 0.10,
   0.09, 0.08, 0.09, 0.07, 0.06, 0.07, 0.06, 0.05, 0.06, 0.05,
   0.04, 0.05, 0.04, 0.05, 0.03, 0.04, 0.03, 0.04, 0.03, 0.02,
   0.03, 0.02]
];
const IMAGENET_DAS_LORA_SEEDS = [
  [0.537, 0.53, 0.48, 0.47, 0.46, 0.455, 0.46, 0.45, 0.455, 0.44,
   0.445, 0.44, 0.45, 0.435, 0.44, 0.43, 0.425, 0.43, 0.42, 0.425,
   0.41, 0.40, 0.405, 0.41, 0.395, 0.40, 0.39, 0.385, 0.39, 0.37,
   0.38, 0.37, 0.375, 0.36, 0.37, 0.365, 0.355, 0.37, 0.36, 0.365,
   0.36, 0.355],
  [0.537, 0.52, 0.44, 0.425, 0.42, 0.425, 0.41, 0.415, 0.42, 0.405,
   0.41, 0.415, 0.40, 0.405, 0.395, 0.40, 0.39, 0.385, 0.38, 0.375,
   0.36, 0.37, 0.355, 0.36, 0.35, 0.34, 0.355, 0.34, 0.33, 0.345,
   0.35, 0.33, 0.34, 0.32, 0.33, 0.31, 0.30, 0.32, 0.31, 0.29,
   0.30, 0.31]
];

// ---------- layout / drawing ----------
Chart.defaults.font.family = "'DejaVu Sans', sans-serif";

const PANEL_W = 395, PANEL_H = 342;
const panels = [
  { id: 'c0', left: 106, top: 116, yW: 106, showX: false, yMin: 0.477, yMax: 0.9305,
    yMajor: CONCADIA_Y_MAJOR, yMinor: CONCADIA_Y_MINOR,
    means: [CONCADIA_BEH_FULL, CONCADIA_BEH_LORA, CONCADIA_DAS_FULL, CONCADIA_DAS_LORA],
    seeds: [CONCADIA_BEH_FULL_SEEDS, CONCADIA_BEH_LORA_SEEDS, CONCADIA_DAS_FULL_SEEDS, CONCADIA_DAS_LORA_SEEDS] },
  { id: 'c1', left: 564, top: 116, yW: 60, showX: false, yMin: -0.0175, yMax: 0.6466,
    yMajor: CIFAR_Y_MAJOR, yMinor: CIFAR_Y_MINOR,
    means: [CIFAR_BEH_FULL, CIFAR_BEH_LORA, CIFAR_DAS_FULL, CIFAR_DAS_LORA],
    seeds: [CIFAR_BEH_FULL_SEEDS, CIFAR_BEH_LORA_SEEDS, CIFAR_DAS_FULL_SEEDS, CIFAR_DAS_LORA_SEEDS] },
  { id: 'c2', left: 106, top: 512, yW: 106, showX: true, yMin: -0.0327, yMax: 0.848,
    yMajor: FOOD_Y_MAJOR, yMinor: FOOD_Y_MINOR,
    means: [FOOD_BEH_FULL, FOOD_BEH_LORA, FOOD_DAS_FULL, FOOD_DAS_LORA],
    seeds: [FOOD_BEH_FULL_SEEDS, FOOD_BEH_LORA_SEEDS, FOOD_DAS_FULL_SEEDS, FOOD_DAS_LORA_SEEDS] },
  { id: 'c3', left: 564, top: 512, yW: 60, showX: true, yMin: -0.008, yMax: 0.5735,
    yMajor: IMAGENET_Y_MAJOR, yMinor: IMAGENET_Y_MINOR,
    means: [IMAGENET_BEH_FULL, IMAGENET_BEH_LORA, IMAGENET_DAS_FULL, IMAGENET_DAS_LORA],
    seeds: [IMAGENET_BEH_FULL_SEEDS, IMAGENET_BEH_LORA_SEEDS, IMAGENET_DAS_FULL_SEEDS, IMAGENET_DAS_LORA_SEEDS] }
];

function withAlpha(hex, a) {
  const n = parseInt(hex.slice(1), 16);
  return 'rgba(' + (n >> 16) + ',' + ((n >> 8) & 255) + ',' + (n & 255) + ',' + a + ')';
}

function tickList(major, minor) {
  return major.map(v => ({ value: v, minor: false }))
    .concat(minor.map(v => ({ value: v, minor: true })))
    .sort((a, b) => a.value - b.value);
}

const gridOpts = {
  drawTicks: false,
  color: ctx => (ctx.tick && ctx.tick.minor) ? '#f4f4f4' : '#ebebeb',
  lineWidth: ctx => (ctx.tick && ctx.tick.minor) ? 1.2 : 2
};

function makePanel(p) {
  const cv = document.getElementById(p.id);
  const padTop = 10;
  const padRight = p.showX ? 30 : 0;
  const xH = p.showX ? 45 : 10;
  cv.width = p.yW + PANEL_W + padRight;
  cv.height = padTop + PANEL_H + xH;
  cv.style.left = (p.left - p.yW) + 'px';
  cv.style.top = (p.top - padTop) + 'px';

  const datasets = [];
  p.seeds.forEach((runs, m) => {
    runs.forEach(run => {
      datasets.push({
        data: run.map((y, i) => ({ x: SEED_STEPS[i], y: y })),
        borderColor: withAlpha(COLORS[m], 0.27),
        borderWidth: 2.2,
        order: 10
      });
    });
  });
  p.means.forEach((vals, m) => {
    datasets.push({
      label: METHODS[m],
      data: vals.map((y, i) => ({ x: STEPS[i], y: y })),
      borderColor: COLORS[m],
      borderWidth: 2.6,
      order: 4 - m
    });
  });

  new Chart(cv, {
    type: 'line',
    data: { datasets: datasets },
    options: {
      responsive: false,
      animation: false,
      events: [],
      layout: { padding: { top: padTop, right: padRight, bottom: 0, left: 0 } },
      plugins: { legend: { display: false }, tooltip: { enabled: false } },
      elements: {
        point: { radius: 0 },
        line: { tension: 0, fill: false, borderJoinStyle: 'round', borderCapStyle: 'round' }
      },
      scales: {
        x: {
          type: 'linear', min: -6.15, max: 129.15,
          afterBuildTicks: a => { a.ticks = tickList(X_MAJOR, X_MINOR); },
          afterFit: s => { s.height = xH; s.paddingLeft = 0; s.paddingRight = 0; },
          ticks: {
            display: p.showX, autoSkip: false, maxRotation: 0, padding: 11,
            color: '#4d4d4d', font: { size: 24 },
            callback: v => X_MAJOR.includes(v) ? String(v) : ''
          },
          grid: gridOpts,
          border: { display: false }
        },
        y: {
          type: 'linear', min: p.yMin, max: p.yMax,
          afterBuildTicks: a => { a.ticks = tickList(p.yMajor, p.yMinor); },
          afterFit: s => { s.width = p.yW; s.paddingTop = 0; s.paddingBottom = 0; },
          ticks: {
            autoSkip: false, padding: 13, color: '#4d4d4d', font: { size: 24 },
            callback: v => p.yMajor.includes(v) ? String(v) : ''
          },
          grid: gridOpts,
          border: { display: false }
        }
      }
    }
  });
}

panels.forEach(makePanel);

// legend
const LEGEND_Y = [432, 481.5, 531, 580.5];
const legend = document.getElementById('legend');
METHODS.forEach((name, i) => {
  const key = document.createElement('div');
  key.className = 'key';
  key.style.top = (LEGEND_Y[i] - 1.5) + 'px';
  key.style.background = COLORS[i];
  legend.appendChild(key);
  const lab = document.createElement('div');
  lab.className = 'txt item';
  lab.style.top = (LEGEND_Y[i] - 11.5) + 'px';
  lab.textContent = name;
  legend.appendChild(lab);
});
</script>
</body>
</html>
